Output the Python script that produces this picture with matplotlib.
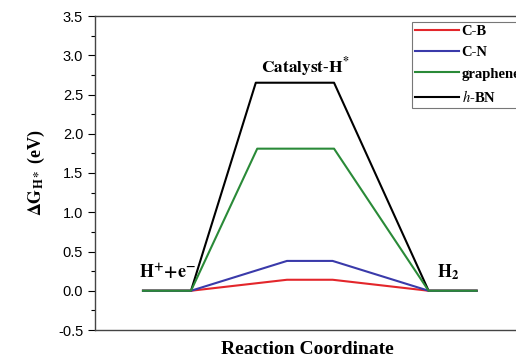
import matplotlib
matplotlib.use("Agg")
import matplotlib.pyplot as plt
from matplotlib.ticker import MultipleLocator

plt.rcParams['mathtext.fontset'] = 'stix'
plt.rcParams['axes.unicode_minus'] = False

series = ["C-B", "C-N", "graphene", "h-BN"]
labels = ["C-B", "C-N", "graphene", r"$\mathbf{\mathit{h}}$-BN"]
colors = ["#e3262b", "#3a3aaa", "#2a8a38", "#000000"]
barrier = [0.14, 0.38, 1.81, 2.65]
# x positions of the profile vertices for each series
x_cb = [1, 2, 4.0, 4.95, 6.95, 7.95]
x_cn = [1, 2, 4.0, 4.95, 6.95, 7.95]
x_gr = [1, 2, 3.38, 4.98, 6.95, 7.95]
x_bn = [1, 2, 3.35, 4.98, 6.95, 7.95]
xs = [x_cb, x_cn, x_gr, x_bn]

W, H = 516, 360
fig = plt.figure(figsize=(W/100, H/100), dpi=100)
ax = fig.add_axes([95/W, 1-330/H, 445/W, 314/H])

for x, b, c, lab in zip(xs, barrier, colors, labels):
    y = [0, 0, b, b, 0, 0]
    ax.plot(x, y, color=c, lw=1.5, label=lab, zorder=3 if c != "#000000" else 2)

ax.set_xlim(0, 445/48)
ax.set_ylim(-0.5, 3.5)
ax.yaxis.set_major_locator(MultipleLocator(0.5))
ax.yaxis.set_minor_locator(MultipleLocator(0.25))
ax.set_xticks([])
ax.tick_params(axis='y', which='major', direction='out', length=5, width=0.8, labelsize=10.5)
ax.tick_params(axis='y', which='minor', direction='out', length=3, width=0.8)
for lbl in ax.get_yticklabels():
    lbl.set_fontfamily('Liberation Sans')
for s in ax.spines.values():
    s.set_color('#444444')
    s.set_linewidth(1.0)

ax.set_ylabel(r'$\mathbf{\Delta G_{H*}}$' + ' (eV)', fontfamily='Liberation Serif',
              fontweight='bold', fontsize=13, labelpad=8)
fig.text(307/W, 1-349/H, 'Reaction Coordinate', ha='center', va='center',
         fontfamily='Liberation Serif', fontweight='bold', fontsize=14)

ax.text(4.38, 2.85, r'$\mathbf{Catalyst\text{-}H^{*}}$', ha='center', va='center', fontsize=12.5)
ax.text(1.52, 0.24, r'$\mathbf{H^{+}{+}e^{-}}$', ha='center', va='center', fontsize=13)
ax.text(7.35, 0.24, r'$\mathbf{H_{2}}$', ha='center', va='center', fontsize=13)

leg = ax.legend(loc='upper left', bbox_to_anchor=(412/W, 1-22/H), bbox_transform=fig.transFigure,
                frameon=True, fancybox=False, handlelength=3.0, handletextpad=0.2,
                borderpad=0.2, labelspacing=0.55, borderaxespad=0,
                prop={'family': 'Liberation Serif', 'weight': 'bold', 'size': 10.5})
leg.get_frame().set_edgecolor('#555555')
leg.get_frame().set_linewidth(0.8)

fig.savefig('out.png', dpi=100)
